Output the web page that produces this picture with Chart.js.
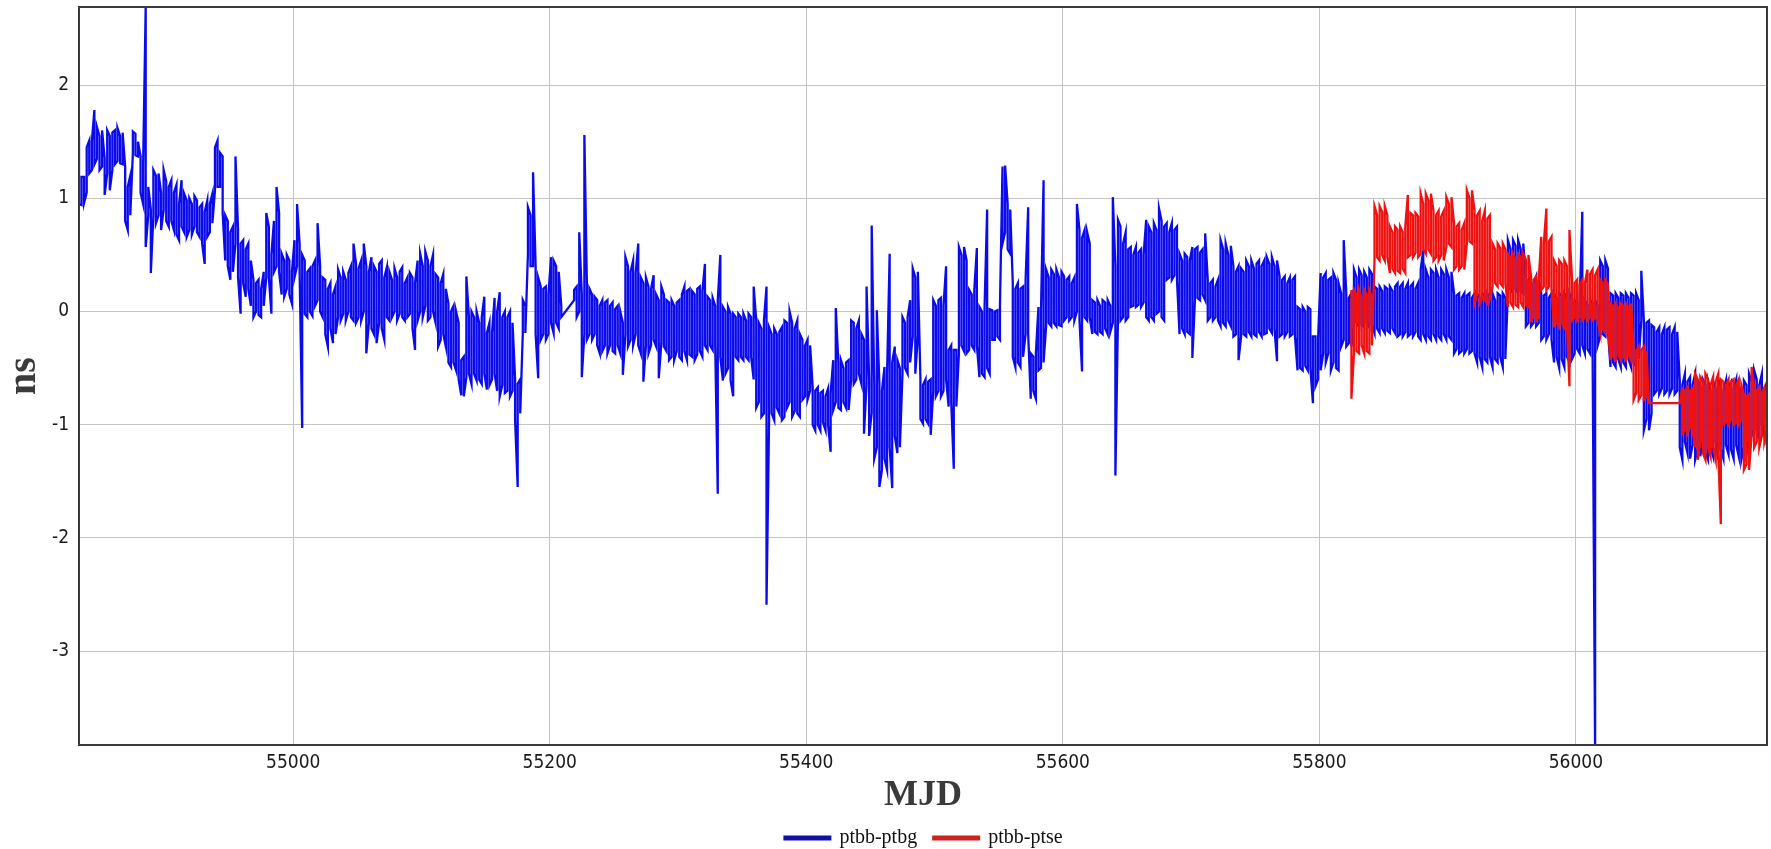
<!DOCTYPE html>
<html>
<head>
<meta charset="utf-8">
<title>ptbb-ptbg / ptbb-ptse</title>
<script src="https://cdn.jsdelivr.net/npm/chart.js@4.4.1/dist/chart.umd.min.js"></script>
<style>
  html, body { margin: 0; padding: 0; background: #fff; }
  #wrap { width: 1771px; height: 849px; position: relative; }
</style>
</head>
<body>
<div id="wrap"><canvas id="clockChart"></canvas></div>
<script>
const seriesNames = ['ptbb-ptbg', 'ptbb-ptse'];
const xTicks = [55000, 55200, 55400, 55600, 55800, 56000];
const yTicks = [-3, -2, -1, 0, 1, 2];

// ptbb-ptbg: for every 2-day step the high and low sample (ns)
const ptbgMjd = [
  54833,54835,54837,54839,54841,54843,54845,54847,54849,54851,
  54853,54855,54857,54859,54861,54863,54865,54867,54869,54871,
  54873,54875,54877,54879,54881,54883,54885,54887,54889,54891,
  54893,54895,54897,54899,54901,54903,54905,54907,54909,54911,
  54913,54915,54917,54919,54921,54923,54925,54927,54929,54931,
  54933,54935,54937,54939,54941,54943,54945,54947,54949,54951,
  54953,54955,54957,54959,54961,54963,54965,54967,54969,54971,
  54973,54975,54977,54979,54981,54983,54985,54987,54989,54991,
  54993,54995,54997,54999,55001,55003,55005,55007,55009,55011,
  55013,55015,55017,55019,55021,55023,55025,55027,55029,55031,
  55033,55035,55037,55039,55041,55043,55045,55047,55049,55051,
  55053,55055,55057,55059,55061,55063,55065,55067,55069,55071,
  55073,55075,55077,55079,55081,55083,55085,55087,55089,55091,
  55093,55095,55097,55099,55101,55103,55105,55107,55109,55111,
  55113,55115,55117,55119,55121,55123,55125,55127,55129,55131,
  55133,55135,55137,55139,55141,55143,55145,55147,55149,55151,
  55153,55155,55157,55159,55161,55163,55165,55167,55169,55171,
  55173,55175,55177,55179,55181,55183,55185,55187,55189,55191,
  55193,55195,55197,55199,55201,55203,55205,55207,55209,55219,
  55221,55223,55225,55227,55229,55231,55233,55235,55237,55239,
  55241,55243,55245,55247,55249,55251,55253,55255,55257,55259,
  55261,55263,55265,55267,55269,55271,55273,55275,55277,55279,
  55281,55283,55285,55287,55289,55291,55293,55295,55297,55299,
  55301,55303,55305,55307,55309,55311,55313,55315,55317,55319,
  55321,55323,55325,55327,55329,55331,55333,55335,55337,55339,
  55341,55343,55345,55347,55349,55351,55353,55355,55357,55359,
  55361,55363,55365,55367,55369,55371,55373,55375,55377,55379,
  55381,55383,55385,55387,55389,55391,55393,55395,55397,55399,
  55401,55403,55405,55407,55409,55411,55413,55415,55417,55419,
  55421,55423,55425,55427,55429,55431,55433,55435,55437,55439,
  55441,55443,55445,55447,55449,55451,55453,55455,55457,55459,
  55461,55463,55465,55467,55469,55471,55473,55475,55477,55479,
  55481,55483,55485,55487,55489,55491,55493,55495,55497,55499,
  55501,55503,55505,55507,55509,55511,55513,55515,55517,55519,
  55521,55523,55525,55527,55529,55531,55533,55535,55537,55539,
  55541,55543,55545,55547,55549,55551,55553,55555,55557,55559,
  55561,55563,55565,55567,55569,55571,55573,55575,55577,55579,
  55581,55583,55585,55587,55589,55591,55593,55595,55597,55599,
  55601,55603,55605,55607,55609,55611,55613,55615,55617,55619,
  55621,55623,55625,55627,55629,55631,55633,55635,55637,55639,
  55641,55643,55645,55647,55649,55651,55653,55655,55657,55659,
  55661,55663,55665,55667,55669,55671,55673,55675,55677,55679,
  55681,55683,55685,55687,55689,55691,55693,55695,55697,55699,
  55701,55703,55705,55707,55709,55711,55713,55715,55717,55719,
  55721,55723,55725,55727,55729,55731,55733,55735,55737,55739,
  55741,55743,55745,55747,55749,55751,55753,55755,55757,55759,
  55761,55763,55765,55767,55769,55771,55773,55775,55777,55779,
  55781,55783,55785,55787,55789,55791,55793,55795,55797,55799,
  55801,55803,55805,55807,55809,55811,55813,55815,55817,55819,
  55821,55823,55825,55827,55829,55831,55833,55835,55837,55839,
  55841,55843,55845,55847,55849,55851,55853,55855,55857,55859,
  55861,55863,55865,55867,55869,55871,55873,55875,55877,55879,
  55881,55883,55885,55887,55889,55891,55893,55895,55897,55899,
  55901,55903,55905,55907,55909,55911,55913,55915,55917,55919,
  55921,55923,55925,55927,55929,55931,55933,55935,55937,55939,
  55941,55943,55945,55947,55949,55951,55953,55955,55957,55959,
  55961,55963,55965,55967,55969,55971,55973,55975,55977,55979,
  55981,55983,55985,55987,55989,55991,55993,55995,55997,55999,
  56001,56003,56005,56007,56009,56011,56013,56015,56017,56019,
  56021,56023,56025,56027,56029,56031,56033,56035,56037,56039,
  56041,56043,56045,56047,56049,56051,56053,56055,56057,56059,
  56061,56063,56065,56067,56069,56071,56073,56075,56077,56079,
  56081,56083,56085,56087,56089,56091,56093,56095,56097,56099,
  56101,56103,56105,56107,56109,56111,56113,56115,56117,56119,
  56121,56123,56125,56127,56129,56131,56133,56135,56137,56139,
  56141,56143,56145,56147,56149,56151
];
const ptbgHi = [
  1.55,1.19,1.19,1.45,1.51,1.50,1.78,1.63,1.55,1.60,
  1.35,1.60,1.55,1.58,1.60,1.62,1.55,1.58,1.28,1.10,
  1.20,1.59,1.57,1.50,1.37,1.30,2.69,1.10,0.90,1.25,
  1.20,1.22,1.05,1.25,1.15,1.10,1.16,1.05,1.12,0.95,
  1.16,1.04,0.98,1.00,0.95,1.02,0.98,0.92,0.95,0.88,
  0.98,0.95,1.04,1.45,1.51,1.40,1.37,0.85,0.80,0.70,
  0.75,1.37,0.72,0.60,0.63,0.55,0.60,0.45,0.28,0.25,
  0.28,0.20,0.35,0.87,0.75,0.50,0.80,1.10,0.87,0.51,
  0.45,0.50,0.45,0.35,0.63,0.95,0.60,0.50,0.45,0.35,
  0.38,0.40,0.45,0.78,0.40,0.30,0.28,0.20,0.25,0.15,
  0.22,0.37,0.30,0.35,0.28,0.34,0.40,0.60,0.42,0.38,
  0.45,0.60,0.40,0.35,0.48,0.40,0.35,0.42,0.45,0.30,
  0.39,0.35,0.28,0.38,0.30,0.35,0.39,0.25,0.30,0.34,
  0.30,0.25,0.45,0.51,0.40,0.53,0.45,0.40,0.50,0.33,
  0.30,0.25,0.33,0.20,0.07,0.00,0.05,0.00,-0.10,-0.43,
  -0.40,0.31,-0.05,0.00,-0.05,0.00,-0.10,-0.05,0.13,-0.19,
  -0.10,-0.19,0.12,0.00,0.17,-0.05,0.00,-0.05,0.00,-0.10,
  -0.60,-0.64,-0.60,0.10,0.05,0.92,0.85,1.23,0.40,0.30,
  0.22,0.20,0.22,0.15,0.48,0.45,0.40,0.35,0.05,0.19,
  0.22,0.70,0.15,1.56,0.22,0.20,0.15,0.13,0.10,0.05,
  0.10,0.08,0.10,0.05,0.08,0.02,0.05,0.00,-0.10,0.48,
  0.40,0.35,0.45,0.34,0.60,0.30,0.25,0.30,0.22,0.20,
  0.32,0.15,0.10,0.22,0.15,0.10,0.08,0.10,0.05,0.08,
  0.10,0.15,0.22,0.18,0.20,0.18,0.15,0.20,0.22,0.18,
  0.42,0.13,0.10,0.12,0.05,0.10,0.50,0.04,0.00,0.04,
  -0.02,-0.02,-0.05,-0.02,-0.05,-0.02,-0.08,-0.02,-0.05,0.22,
  -0.08,-0.10,-0.15,-0.08,0.22,-0.14,-0.20,-0.15,-0.20,-0.18,
  -0.14,-0.08,-0.10,0.00,-0.10,-0.15,-0.08,-0.20,-0.25,-0.30,
  -0.25,-0.30,-0.67,-0.70,-0.67,-0.72,-0.70,-0.75,-0.68,-0.72,
  -0.43,0.03,-0.45,-0.43,-0.50,-0.45,-0.43,-0.08,-0.10,-0.15,
  -0.08,-0.20,-0.25,0.22,-0.60,0.76,-0.65,0.01,-0.64,-0.70,
  -0.49,-0.55,0.51,-0.45,-0.31,-0.43,-0.50,-0.05,-0.10,-0.05,
  0.10,0.38,0.30,0.35,-0.60,-0.65,-0.60,-0.62,-0.60,0.10,
  0.05,0.10,0.12,0.05,0.40,-0.34,-0.30,-0.34,-0.34,0.57,
  0.50,0.57,0.45,0.19,0.15,0.19,0.56,0.04,0.00,0.04,
  0.90,0.02,0.01,0.00,0.01,0.05,1.28,1.29,0.95,0.90,
  0.25,0.20,0.25,0.20,0.22,0.28,0.92,-0.37,-0.40,-0.37,
  0.04,0.02,1.16,0.37,0.30,0.37,0.33,0.37,0.30,0.35,
  0.31,0.28,0.31,0.25,0.30,0.95,0.72,0.65,0.72,0.70,
  0.60,0.10,0.08,0.10,0.05,0.10,0.08,0.10,0.05,1.01,
  0.40,0.81,0.75,0.60,0.70,0.55,0.57,0.50,0.57,0.52,
  0.55,0.50,0.81,0.75,0.70,0.78,0.72,0.91,0.80,0.75,
  0.78,0.70,0.78,0.72,0.75,0.51,0.45,0.51,0.48,0.45,
  0.57,0.55,0.57,0.52,0.55,0.69,0.28,0.25,0.28,0.22,
  0.28,0.63,0.55,0.60,0.50,0.58,0.40,0.35,0.40,0.38,
  0.35,0.45,0.40,0.45,0.38,0.42,0.45,0.40,0.45,0.48,
  0.42,0.48,0.40,0.45,0.31,0.28,0.31,0.25,0.30,0.28,
  0.31,0.04,0.02,0.04,0.00,0.04,0.02,-0.22,-0.22,-0.25,
  0.34,0.30,0.34,0.28,0.30,0.34,0.28,0.25,0.16,0.63,
  0.16,0.12,0.16,0.37,0.30,0.37,0.32,0.35,0.30,0.37,
  0.33,0.22,0.20,0.22,0.18,0.22,0.20,0.22,0.18,0.22,
  0.25,0.22,0.25,0.20,0.25,0.22,0.25,0.20,0.25,0.37,
  0.54,0.37,0.30,0.37,0.34,0.37,0.30,0.37,0.33,0.37,
  0.30,0.35,0.16,0.14,0.16,0.12,0.16,0.14,0.16,0.12,
  0.16,0.16,0.12,0.16,0.14,0.16,0.12,0.16,0.10,0.16,
  0.14,0.16,0.12,0.63,0.55,0.63,0.58,0.63,0.55,0.60,
  0.31,0.28,0.31,0.25,0.31,0.28,0.16,0.14,0.16,0.12,
  0.16,0.16,0.12,0.16,0.14,0.16,0.12,0.16,0.10,0.10,
  0.08,0.10,0.88,0.10,0.06,0.10,0.08,0.10,0.05,0.45,
  0.40,0.45,0.38,0.16,0.14,0.16,0.12,0.16,0.14,0.16,
  0.12,0.16,0.14,0.16,0.10,0.36,-0.08,-0.10,-0.08,-0.12,
  -0.14,-0.18,-0.14,-0.20,-0.14,-0.16,-0.14,-0.20,-0.14,-0.18,
  -0.61,-0.65,-0.55,-0.62,-0.58,-0.65,-0.55,-0.61,-0.66,-0.60,
  -0.65,-0.61,-0.70,-0.62,-0.68,-0.60,-0.65,-0.70,-0.61,-0.66,
  -0.62,-0.68,-0.60,-0.66,-0.70,-0.61,-0.65,-0.55,-0.62,-0.52,
  -0.60,-0.65,-0.55,-0.70,-0.62,-0.66
];
const ptbgLo = [
  0.95,0.94,0.96,1.05,1.22,1.25,1.30,1.35,1.25,1.28,
  1.03,1.22,1.07,1.25,1.30,1.33,1.31,1.30,0.80,0.72,
  0.85,1.40,1.38,1.37,1.05,0.95,0.57,0.85,0.34,0.85,
  0.78,0.85,0.72,0.90,0.80,0.75,0.80,0.72,0.68,0.63,
  0.75,0.70,0.66,0.72,0.68,0.75,0.70,0.66,0.60,0.42,
  0.66,0.70,0.78,1.07,1.10,1.10,0.87,0.45,0.40,0.28,
  0.35,0.60,0.30,-0.02,0.25,0.13,0.20,0.05,-0.05,0.00,
  -0.03,-0.05,0.05,0.30,0.30,-0.02,0.35,0.40,0.35,0.15,
  0.13,0.20,0.15,0.07,0.30,0.40,0.35,-1.03,-0.02,-0.05,
  0.00,-0.04,0.05,0.10,0.00,-0.05,-0.20,-0.31,-0.15,-0.28,
  -0.20,-0.05,-0.08,-0.02,-0.08,0.00,-0.05,-0.08,-0.10,-0.05,
  -0.08,0.00,-0.37,-0.10,-0.15,-0.20,-0.28,-0.10,-0.15,-0.25,
  -0.05,-0.08,-0.05,0.00,-0.08,-0.02,-0.05,-0.08,-0.05,-0.02,
  -0.15,-0.34,-0.08,0.00,-0.05,0.05,-0.08,-0.05,0.00,-0.10,
  -0.31,-0.25,-0.20,-0.31,-0.45,-0.49,-0.45,-0.52,-0.60,-0.74,
  -0.75,-0.58,-0.55,-0.64,-0.55,-0.61,-0.60,-0.64,-0.55,-0.69,
  -0.65,-0.60,-0.55,-0.70,-0.75,-0.65,-0.72,-0.70,-0.75,-0.70,
  -0.96,-1.55,-0.90,-0.19,-0.19,0.51,0.40,0.40,-0.20,-0.59,
  -0.25,-0.20,-0.25,-0.20,-0.10,-0.19,-0.10,-0.15,-0.05,0.10,
  -0.05,0.00,-0.58,-0.20,-0.25,-0.20,-0.25,-0.20,-0.30,-0.37,
  -0.35,-0.30,-0.37,-0.30,-0.35,-0.37,-0.30,-0.37,-0.56,-0.20,
  -0.31,-0.25,-0.30,-0.20,-0.30,-0.37,-0.62,-0.30,-0.37,-0.30,
  -0.25,-0.31,-0.59,-0.28,-0.31,-0.35,-0.43,-0.40,-0.43,-0.35,
  -0.40,-0.43,-0.35,-0.43,-0.38,-0.40,-0.43,-0.38,-0.35,-0.40,
  -0.30,-0.34,-0.30,-0.34,-0.30,-1.61,-0.40,-0.61,-0.55,-0.50,
  -0.61,-0.75,-0.40,-0.43,-0.40,-0.43,-0.40,-0.43,-0.40,-0.60,
  -0.85,-0.80,-0.93,-0.90,-2.59,-0.96,-0.90,-0.96,-0.85,-0.90,
  -0.96,-0.93,-0.85,-0.80,-0.93,-0.88,-0.90,-0.93,-0.78,-0.75,
  -0.78,-0.70,-1.00,-1.05,-1.00,-1.05,-0.98,-1.05,-1.00,-1.24,
  -0.87,-0.80,-0.85,-0.87,-0.80,-0.85,-0.87,-0.60,-0.64,-0.60,
  -0.55,-0.64,-1.08,-0.64,-1.10,-0.90,-1.30,-1.20,-1.55,-1.40,
  -1.30,-1.40,-1.20,-1.56,-1.10,-1.25,-1.20,-0.55,-0.50,-0.55,
  -0.45,-0.22,-0.55,-0.22,-0.95,-0.99,-0.95,-0.99,-1.09,-0.70,
  -0.75,-0.70,-0.75,-0.70,-0.60,-0.84,-0.80,-1.39,-0.84,-0.37,
  -0.30,-0.35,-0.37,-0.34,-0.30,-0.34,-0.30,-0.58,-0.55,-0.58,
  -0.50,-0.55,-0.25,-0.25,-0.22,-0.25,0.60,0.70,0.55,0.51,
  -0.40,-0.49,-0.45,-0.49,-0.40,-0.20,-0.20,-0.77,-0.70,-0.77,
  -0.52,-0.50,-0.45,-0.13,-0.10,-0.13,-0.10,-0.13,-0.12,-0.13,
  -0.08,-0.05,-0.08,-0.05,-0.08,0.00,-0.08,-0.53,-0.05,-0.08,
  -0.05,-0.20,-0.18,-0.20,-0.18,-0.20,-0.15,-0.20,-0.18,-0.10,
  -1.45,-0.05,-0.08,-0.05,-0.08,-0.05,0.04,0.05,0.04,0.06,
  0.04,0.08,-0.05,-0.08,-0.05,-0.08,-0.02,0.00,-0.05,-0.08,
  0.28,0.30,0.28,0.32,0.28,-0.20,-0.15,-0.20,-0.18,-0.20,
  -0.41,0.10,0.12,0.10,0.15,0.10,-0.08,-0.05,-0.08,-0.05,
  -0.08,-0.13,-0.10,-0.13,-0.08,-0.13,-0.22,-0.20,-0.43,-0.22,
  -0.20,-0.22,-0.18,-0.22,-0.20,-0.22,-0.18,-0.22,-0.20,-0.19,
  -0.15,-0.19,-0.15,-0.44,-0.22,-0.20,-0.22,-0.18,-0.22,-0.20,
  -0.22,-0.52,-0.50,-0.52,-0.48,-0.52,-0.50,-0.81,-0.66,-0.60,
  -0.52,-0.37,-0.45,-0.37,-0.52,-0.45,-0.50,-0.52,-0.31,-0.25,
  -0.31,-0.28,-0.31,-0.14,-0.10,-0.14,-0.12,-0.14,-0.10,-0.14,
  -0.12,-0.19,-0.15,-0.19,-0.15,-0.19,-0.17,-0.19,-0.15,-0.19,
  -0.22,-0.20,-0.22,-0.18,-0.22,-0.20,-0.22,-0.18,-0.22,-0.25,
  -0.20,-0.25,-0.22,-0.25,-0.20,-0.25,-0.22,-0.25,-0.20,-0.25,
  -0.22,-0.25,-0.37,-0.33,-0.37,-0.35,-0.37,-0.33,-0.37,-0.35,
  -0.37,-0.45,-0.40,-0.49,-0.42,-0.45,-0.40,-0.49,-0.42,-0.45,
  -0.40,-0.49,-0.42,0.16,0.20,0.16,0.20,0.16,0.18,0.16,
  -0.13,-0.10,-0.13,-0.10,-0.13,-0.10,-0.25,-0.22,-0.25,-0.20,
  -0.25,-0.45,-0.40,-0.50,-0.42,-0.49,-0.40,-0.45,-0.42,-0.37,
  -0.33,-0.37,-0.30,-0.37,-0.33,-0.37,-0.30,-3.90,-0.30,-0.22,
  -0.20,-0.22,-0.18,-0.49,-0.45,-0.49,-0.42,-0.49,-0.45,-0.49,
  -0.42,-0.49,-0.45,-0.49,-0.42,-0.08,-1.05,-0.95,-1.05,-0.90,
  -0.73,-0.70,-0.73,-0.68,-0.73,-0.70,-0.73,-0.68,-0.73,-0.70,
  -1.20,-1.31,-1.15,-1.25,-1.30,-1.18,-1.31,-1.22,-1.28,-1.15,
  -1.25,-1.31,-1.20,-1.28,-1.15,-1.31,-1.22,-1.30,-1.18,-1.26,
  -1.22,-1.30,-1.18,-1.28,-1.31,-1.20,-1.25,-1.15,-1.10,-1.05,
  -1.08,-1.12,-1.00,-1.10,-0.95,-1.02
];

// ptbb-ptse: starts at MJD 55825, no data 56058-56080
const ptseMjd = [
  55825,55827,55829,55831,55833,55835,55837,55839,55841,55843,
  55845,55847,55849,55851,55853,55855,55857,55859,55861,55863,
  55865,55867,55869,55871,55873,55875,55877,55879,55881,55883,
  55885,55887,55889,55891,55893,55895,55897,55899,55901,55903,
  55905,55907,55909,55911,55913,55915,55917,55919,55921,55923,
  55925,55927,55929,55931,55933,55935,55937,55939,55941,55943,
  55945,55947,55949,55951,55953,55955,55957,55959,55961,55963,
  55965,55967,55969,55971,55973,55975,55977,55979,55981,55983,
  55985,55987,55989,55991,55993,55995,55997,55999,56001,56003,
  56005,56007,56009,56011,56013,56015,56017,56019,56021,56023,
  56025,56027,56029,56031,56033,56035,56037,56039,56041,56043,
  56045,56047,56049,56051,56053,56055,56057,56081,56083,56085,
  56087,56089,56091,56093,56095,56097,56099,56101,56103,56105,
  56107,56109,56111,56113,56115,56117,56119,56121,56123,56125,
  56127,56129,56131,56133,56135,56137,56139,56141,56143,56145,
  56147,56149,56151
];
const ptseHi = [
  0.19,0.19,0.15,0.19,0.12,0.19,0.15,0.19,0.12,0.93,
  0.85,0.93,0.88,0.93,0.85,0.75,0.70,0.75,0.72,0.75,
  0.70,0.75,1.03,0.87,0.85,0.87,0.84,1.04,0.95,1.04,
  0.98,1.04,0.89,0.85,0.89,0.84,0.89,1.01,0.95,1.01,
  0.78,0.75,0.78,0.72,0.78,1.07,1.00,1.07,0.89,0.85,
  0.89,0.80,0.89,0.82,0.85,0.60,0.55,0.60,0.56,0.60,
  0.55,0.51,0.48,0.51,0.46,0.51,0.48,0.51,0.46,0.50,
  0.31,0.28,0.31,0.27,0.66,0.60,0.91,0.62,0.66,0.45,
  0.40,0.45,0.42,0.45,0.40,0.72,0.28,0.25,0.28,0.24,
  0.28,0.25,0.37,0.33,0.37,0.32,0.37,0.28,0.25,0.28,
  0.24,0.07,0.05,0.07,0.03,0.07,0.05,0.07,0.04,0.07,
  -0.31,-0.35,-0.31,-0.34,-0.31,-0.35,-0.81,-0.81,-0.67,-0.70,
  -0.67,-0.70,-0.68,-0.55,-0.60,-0.58,-0.62,-0.55,-0.60,-0.65,
  -0.58,-0.62,-0.55,-0.60,-0.62,-0.65,-0.60,-0.62,-0.60,-0.65,
  -0.60,-0.65,-0.73,-0.75,-0.73,-0.49,-0.67,-0.70,-0.67,-0.72,
  -0.67,-0.70,-0.72
];
const ptseLo = [
  -0.77,-0.37,-0.35,-0.37,-0.30,-0.37,-0.35,-0.37,-0.30,0.45,
  0.48,0.45,0.50,0.45,0.48,0.34,0.38,0.34,0.36,0.34,
  0.38,0.34,0.48,0.50,0.48,0.52,0.48,0.51,0.55,0.51,
  0.55,0.51,0.45,0.48,0.45,0.50,0.45,0.57,0.60,0.57,
  0.37,0.40,0.37,0.40,0.37,0.60,0.62,0.60,0.07,0.15,
  0.07,0.12,0.10,0.07,0.12,0.22,0.25,0.22,0.25,0.22,
  0.25,0.04,0.08,0.04,0.06,0.04,0.08,0.04,0.06,0.04,
  -0.08,-0.05,-0.08,-0.05,0.19,0.22,0.19,0.22,0.19,-0.14,
  -0.10,-0.14,-0.10,-0.14,-0.10,-0.66,-0.08,-0.05,-0.08,-0.05,
  -0.08,-0.05,-0.08,-0.05,-0.08,-0.06,-0.08,-0.19,-0.15,-0.19,
  -0.15,-0.43,-0.40,-0.43,-0.38,-0.43,-0.40,-0.43,-0.38,-0.43,
  -0.78,-0.72,-0.78,-0.74,-0.78,-0.75,-0.81,-0.81,-1.08,-1.05,
  -1.08,-1.02,-1.05,-1.20,-1.31,-1.15,-1.25,-1.31,-1.20,-1.28,
  -1.20,-1.31,-1.25,-1.88,-1.00,-0.98,-1.00,-0.95,-1.00,-0.98,
  -1.00,-0.95,-1.40,-1.35,-1.40,-1.10,-1.20,-1.15,-1.20,-1.10,
  -1.15,-1.05,-1.10
];

const mjdMin = 54833, mjdMax = 56149;
const nsMin = -3.83, nsMax = 2.69;

// each sample day is drawn as a vertical stroke hi -> lo, alternating direction
function strokes(xs, hi, lo) {
  const pts = [];
  xs.forEach((x, i) => {
    if (i % 2 === 0) pts.push({ x: x, y: hi[i] }, { x: x, y: lo[i] });
    else pts.push({ x: x, y: lo[i] }, { x: x, y: hi[i] });
  });
  return pts;
}

// dark frame round the plot area
const frame = {
  id: 'frame',
  afterDatasetsDraw(chart) {
    const { ctx, chartArea: a } = chart;
    ctx.save();
    ctx.strokeStyle = '#3a3a3a';
    ctx.lineWidth = 2;
    ctx.strokeRect(a.left, a.top, a.right - a.left, a.bottom - a.top);
    ctx.restore();
  }
};

// legend: thick line swatch + serif label, centred under the plot
const lineLegend = {
  id: 'lineLegend',
  afterDraw(chart) {
    const { ctx, chartArea: a } = chart;
    const sw = 48, gap = 8, space = 15, y = 838;
    ctx.save();
    ctx.font = '20px "Liberation Serif", "Times New Roman", serif';
    ctx.textBaseline = 'middle';
    const items = chart.data.datasets.map(ds => ({
      text: ds.label, color: ds.legendColor, w: ctx.measureText(ds.label).width
    }));
    const total = items.reduce((s, it) => s + sw + gap + it.w, 0) + space * (items.length - 1);
    let x = (a.left + a.right) / 2 - total / 2;
    items.forEach(it => {
      ctx.fillStyle = it.color;
      ctx.fillRect(x, y - 2.5, sw, 5);
      ctx.fillStyle = '#111';
      ctx.fillText(it.text, x + sw + gap, y);
      x += sw + gap + it.w + space;
    });
    ctx.restore();
  }
};

const tickFont = { family: "'DejaVu Sans Condensed', 'Liberation Sans', sans-serif", size: 19 };
const titleFont = { family: "'Liberation Serif', 'Times New Roman', serif", weight: 'bold' };

new Chart(document.getElementById('clockChart'), {
  type: 'line',
  data: {
    datasets: [
      {
        label: seriesNames[0],
        data: strokes(ptbgMjd, ptbgHi, ptbgLo),
        borderColor: '#0a0aec',
        legendColor: '#1010a8',
        borderWidth: 2.3,
        pointRadius: 0,
        tension: 0,
        order: 1
      },
      {
        label: seriesNames[1],
        data: strokes(ptseMjd, ptseHi, ptseLo),
        borderColor: '#f01010',
        legendColor: '#d02020',
        borderWidth: 2.3,
        pointRadius: 0,
        tension: 0,
        order: 0
      }
    ]
  },
  options: {
    responsive: true,
    maintainAspectRatio: false,
    animation: false,
    layout: { padding: { top: 7, right: 4, left: 0, bottom: 0 } },
    plugins: {
      legend: { display: false },
      tooltip: { enabled: false }
    },
    scales: {
      x: {
        type: 'linear',
        min: mjdMin,
        max: mjdMax,
        afterBuildTicks: s => { s.ticks = xTicks.map(v => ({ value: v })); },
        afterFit: s => { s.height = 104; s.paddingLeft = 0; s.paddingRight = 0; },
        grid: { color: '#c4c4c4', lineWidth: 1, drawTicks: false },
        border: { display: false },
        ticks: {
          color: '#1a1a1a',
          font: tickFont,
          padding: 7,
          maxRotation: 0,
          callback: v => String(v)
        },
        title: {
          display: true,
          text: 'MJD',
          color: '#3a3a3a',
          font: Object.assign({ size: 36 }, titleFont),
          padding: { top: 0, bottom: 32 }
        }
      },
      y: {
        type: 'linear',
        min: nsMin,
        max: nsMax,
        afterBuildTicks: s => { s.ticks = yTicks.map(v => ({ value: v })); },
        afterFit: s => { s.width = 79; s.paddingTop = 0; s.paddingBottom = 0; },
        grid: { color: '#c4c4c4', lineWidth: 1, drawTicks: false },
        border: { display: false },
        ticks: {
          color: '#1a1a1a',
          font: tickFont,
          padding: 10,
          callback: v => String(v)
        },
        title: {
          display: true,
          text: 'ns',
          color: '#3a3a3a',
          font: Object.assign({ size: 40 }, titleFont),
          padding: { top: 1, bottom: 0 }
        }
      }
    }
  },
  plugins: [frame, lineLegend]
});
</script>
</body>
</html>
